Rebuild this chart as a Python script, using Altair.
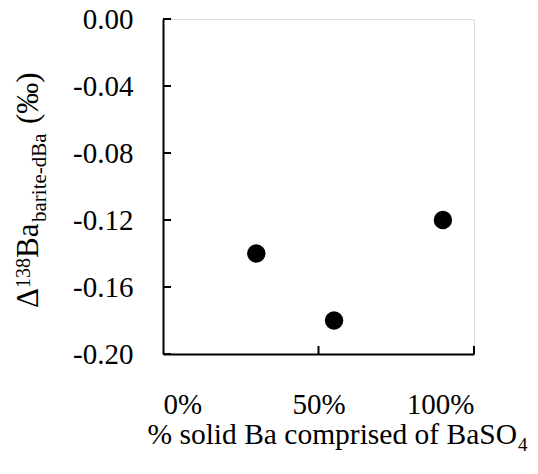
import altair as alt
import pandas as pd

# Measured barite fractionation vs. share of solid Ba held as BaSO4
pct_baso4 = [0.30, 0.55, 0.90]
delta_138 = [-0.14, -0.18, -0.12]

# Axis tick values
y_ticks = [-0.20, -0.16, -0.12, -0.08, -0.04, 0.00]
x_ticks = [0.0, 0.5, 1.0]

FONT = "Liberation Serif"
W, H = 311, 335

pts = pd.DataFrame({"pct": pct_baso4, "delta": delta_138})

x_scale = alt.Scale(domain=[0, 1], nice=False)
y_scale = alt.Scale(domain=[-0.2, 0.0], nice=False)

# Labelled axes (left / bottom) with the data points
points = alt.Chart(pts).mark_circle(size=340, color="black", opacity=1).encode(
    x=alt.X(
        "pct:Q",
        scale=x_scale,
        axis=alt.Axis(
            title=None,
            values=x_ticks,
            format=".0%",
            labelPadding=36,
            labelFont=FONT,
            labelFontSize=29,
            labelColor="black",
            ticks=False,
            grid=False,
            domainColor="black",
            domainWidth=2,
        ),
    ),
    y=alt.Y(
        "delta:Q",
        scale=y_scale,
        axis=alt.Axis(
            title=None,
            values=y_ticks,
            labelExpr="(datum.value < 0 ? '-' : '') + format(abs(datum.value), '.2f')",
            labelPadding=30,
            labelFont=FONT,
            labelFontSize=29,
            labelColor="black",
            ticks=False,
            grid=False,
            domainColor="black",
            domainWidth=2,
        ),
    ),
)

# Inward-pointing tick marks, drawn as short open-path symbols (8 px long)
y_tick_marks = alt.Chart(pd.DataFrame({"delta": y_ticks})).mark_point(
    shape="M0,0H2", size=64, filled=False, strokeWidth=2, color="black", opacity=1
).encode(y=alt.Y("delta:Q", scale=y_scale), x=alt.value(0))

x_tick_marks = alt.Chart(pd.DataFrame({"pct": x_ticks[1:]})).mark_point(
    shape="M0,0V-2", size=64, filled=False, strokeWidth=2, color="black", opacity=1
).encode(x=alt.X("pct:Q", scale=x_scale), y=alt.value(H))


def label(text, x, y, size, angle=0, align="left", opacity=1):
    return alt.Chart(pd.DataFrame({"t": [text]})).mark_text(
        font=FONT, fontSize=size, color="black", align=align,
        baseline="alphabetic", angle=angle, opacity=opacity,
    ).encode(text="t:N", x=alt.value(x), y=alt.value(y))


# x-axis title with subscript
x_title = [
    label("% solid Ba comprised of BaSO", 354, 425, 29.5, align="right"),
    label("4", 355, 432, 19),
]

# y-axis title: Δ¹³⁸Ba_barite-dBa (‰), reading bottom to top
y_title = [
    label("\u0394", -125, 289, 31, angle=270),
    label("138", -133, 269, 20, angle=270),
    label("Ba", -125, 239, 31, angle=270),
    label("barite-dBa", -117, 203, 21, angle=270),
    label("(\u2030)", -125, 105, 31, angle=270),
]

# Invisible corner marker that fixes the outer margin to the left of / above the plot
corner = label(".", -158, -5, 10, opacity=0)

chart = alt.layer(
    points, y_tick_marks, x_tick_marks, *x_title, *y_title, corner
).properties(width=W, height=H)

chart.save("out.html", embed_options={"renderer": "svg", "actions": False})
